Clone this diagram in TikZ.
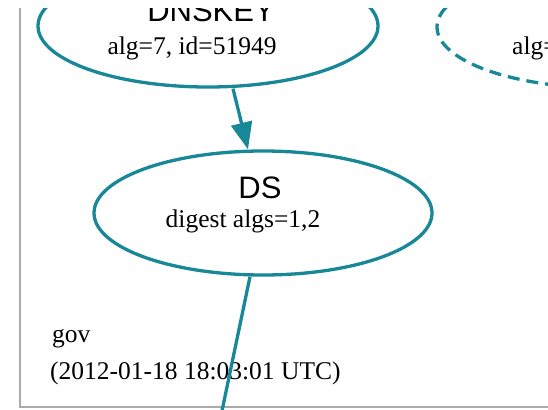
\documentclass[tikz,border=0pt]{standalone}
\usepackage{fontspec}
\setmainfont{Liberation Serif}
\setsansfont{Liberation Sans}
\usetikzlibrary{shapes.geometric, arrows.meta}
\definecolor{dnsteal}{RGB}{24,136,152}
\definecolor{clustergray}{RGB}{170,170,170}

\begin{document}
\begin{tikzpicture}[
        x=1pt, y=-1pt,
        keynode/.style={ellipse, draw=dnsteal, line width=3.3pt, minimum width=340pt, minimum height=122pt, inner sep=0pt},
        title/.style={font=\sffamily\fontsize{31}{31}\selectfont, anchor=base, inner sep=0pt},
        info/.style={font=\fontsize{25.5}{25.5}\selectfont, anchor=base, inner sep=0pt},
        edge/.style={dnsteal, line width=3.3pt},
        cluster/.style={clustergray, line width=2.8pt}
    ]
        \useasboundingbox (0,0) rectangle (548,409);
        \clip (0,9) rectangle (548,409);

        % Zone frame (left and bottom side)
        \draw[cluster] (20,0) -- (20,407) -- (560,407);

        % Key and DS nodes
        \node[keynode] (dnskey) at (208,26) {};
        \node[keynode, dash pattern=on 12pt off 7pt] (otherkey) at (607,27) {};
        \node[keynode, minimum width=338pt, minimum height=124pt] (ds) at (263,213) {};

        % Their texts
        \node[title] (dnskeyname) at (211,22) {DNSKEY};
        \node[info] (dnskeyalg) at (192,55) {alg=7, id=51949};
        \node[info, anchor=base west] (otheralg) at (512,55) {alg=};
        \node[title] (dsname) at (260,198) {DS};
        \node[info] (dsalg) at (243,227) {digest algs=1,2};

        % Zone name
        \node[info, anchor=base west] (zone) at (52,342) {gov};
        \node[info, anchor=base west] (zonetime) at (50,379) {(2012-01-18 18:03:01 UTC)};

        % Connectors
        \coordinate (below) at (218,430);
        \draw[edge, -{Triangle[length=27pt, width=21pt]}] ([xshift=25pt]dnskey.south) -- ([xshift=-15pt]ds.north);
        \draw[edge] ([xshift=-13pt]ds.south) -- (below);
    \end{tikzpicture}
\end{document}
